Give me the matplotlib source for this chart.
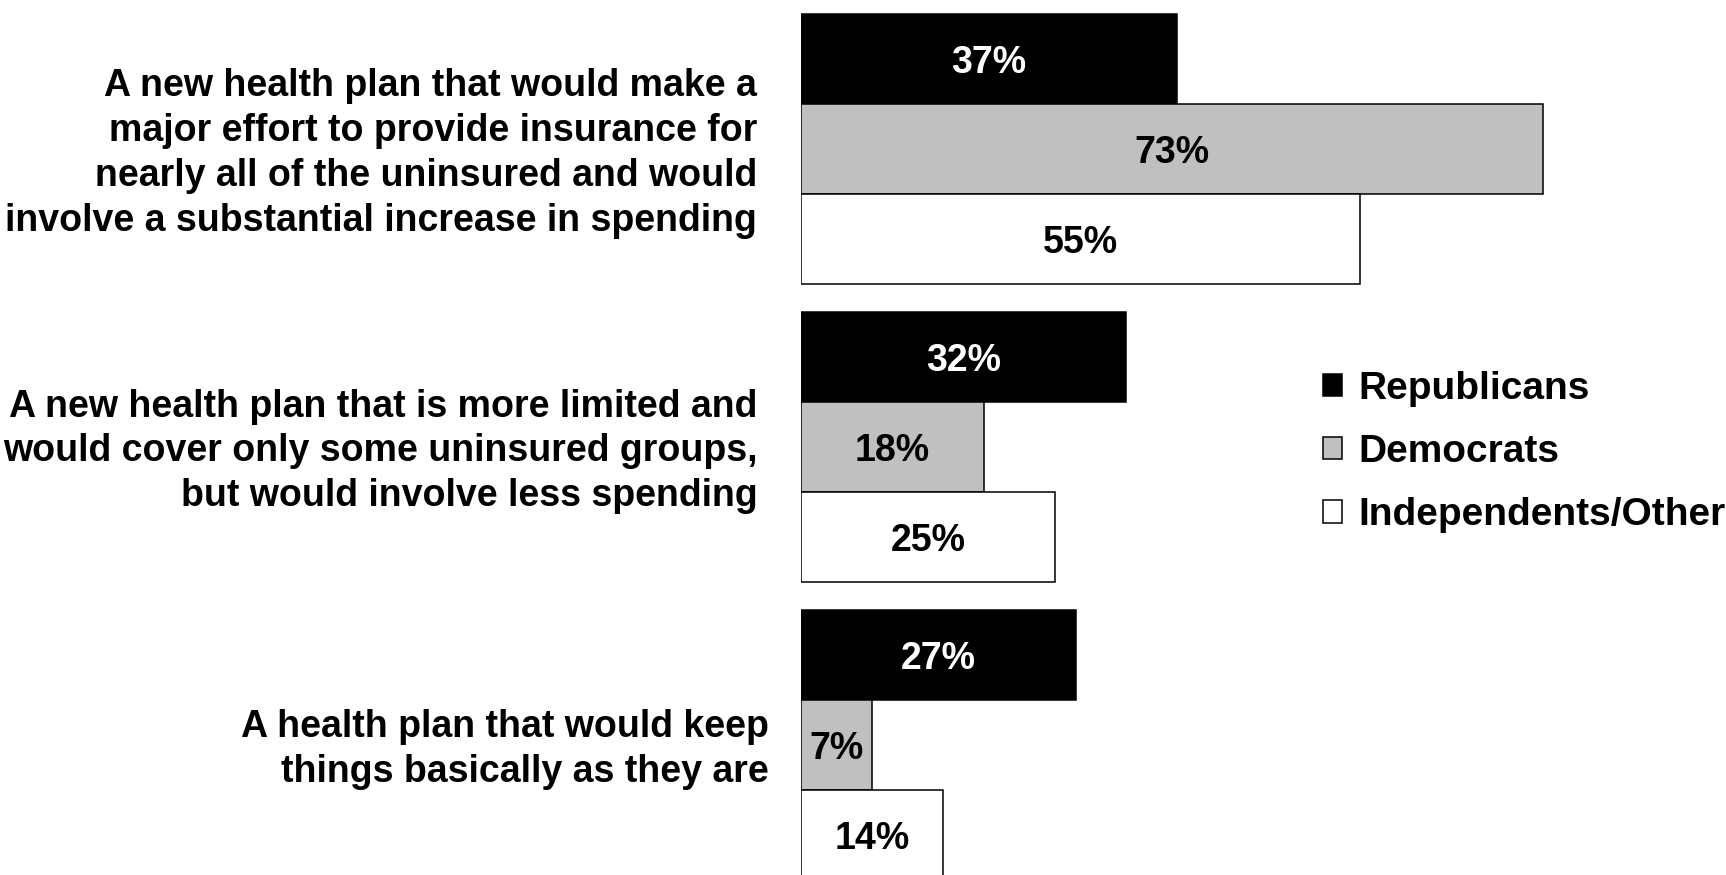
import numpy as np
import matplotlib
matplotlib.use('Agg')
from matplotlib import pyplot as plt

#data
questions = ['A new health plan that would make a\nmajor effort to provide insurance for\nnearly all of the uninsured and would\ninvolve a substantial increase in spending',
             'A new health plan that is more limited and\nwould cover only some uninsured groups,\nbut would involve less spending',
             'A health plan that would keep\nthings basically as they are']
parties = ['Republicans', 'Democrats', 'Independents/Other']
republicans = [37, 32, 27]
democrats = [73, 18, 7]
independents = [55, 25, 14]

colors = ['#000000', '#C0C0C0', '#FFFFFF']
textcolors = ['white', 'black', 'black']
label_x = [-4.3, -4.3, -3.2]  #last label sits a bit closer to the bars

plt.rcParams['font.family'] = ['Liberation Sans', 'DejaVu Sans']
plt.rcParams['font.weight'] = 'bold'

fig = plt.figure(figsize=(17.26, 8.75), dpi=100)
#axes starts where the bars start, 1 y unit = one bar height
ax = fig.add_axes([801/1726, 0, 915/1726, 1])
ax.set_xlim(0, 90)
ax.set_ylim((875-14)/90, -14/90)
ax.axis('off')

pitch = 298/90
series = [republicans, democrats, independents]
handles = []
for j in range(3):
    ys = np.arange(3)*pitch + j + 0.5
    b = ax.barh(ys, series[j], height=1, color=colors[j], edgecolor='black',
                linewidth=1.1, label=parties[j])
    handles.append(b)
    for y, v in zip(ys, series[j]):
        ax.text(v/2, y, str(v)+'%', ha='center', va='center_baseline', fontsize=27,
                fontweight='bold', color=textcolors[j])

#question labels to the left of each group
for i in range(3):
    ax.text(label_x[i], i*pitch + 1.55, questions[i], ha='right', va='center',
            fontsize=27, fontweight='bold', linespacing=1.31)

fig.legend(handles=handles, loc='center left', bbox_to_anchor=(1288/1726, 1-452/875),
           frameon=False, handlelength=0.5, handleheight=0.5,
           handletextpad=0.4, labelspacing=0.7, prop={'weight': 'bold', 'size': 28})

fig.savefig('out.png', dpi=100)
